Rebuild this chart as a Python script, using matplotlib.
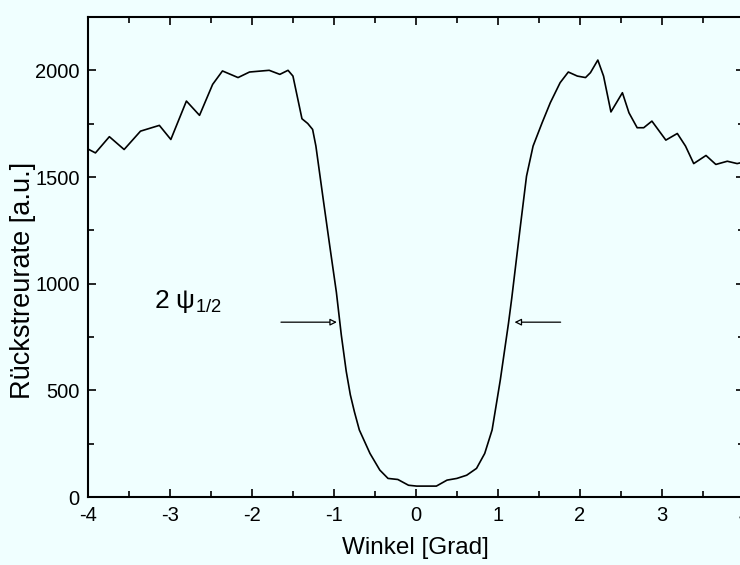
import numpy as np
import matplotlib.pyplot as plt
from matplotlib.ticker import MultipleLocator

# curve
winkel = [-3.99, -3.91, -3.74, -3.56, -3.36, -3.13, -2.99, -2.80, -2.64, -2.48,
          -2.36, -2.17, -2.03, -1.79, -1.66, -1.56, -1.50, -1.44, -1.39, -1.32,
          -1.26, -1.22, -1.13, -1.05, -0.97, -0.91, -0.85, -0.80, -0.75, -0.69,
          -0.56, -0.44, -0.34, -0.22, -0.09, 0.01, 0.25, 0.38, 0.50, 0.62,
          0.74, 0.84, 0.93, 0.99, 1.03, 1.13, 1.17, 1.27, 1.35, 1.43,
          1.54, 1.64, 1.76, 1.86, 1.97, 2.07, 2.13, 2.22, 2.29, 2.38,
          2.52, 2.60, 2.70, 2.78, 2.88, 3.05, 3.19, 3.29, 3.39, 3.54,
          3.66, 3.80, 3.92, 4.00]
rate = [1629, 1613, 1689, 1629, 1715, 1742, 1676, 1856, 1789, 1934,
        1997, 1966, 1992, 2000, 1981, 2000, 1973, 1864, 1773, 1751,
        1723, 1645, 1394, 1175, 960, 760, 590, 480, 400, 315,
        205, 127, 88, 83, 56, 52, 52, 80, 88, 103,
        135, 205, 315, 455, 549, 815, 933, 1254, 1504, 1645,
        1754, 1848, 1942, 1992, 1973, 1966, 1989, 2048, 1973, 1805,
        1895, 1801, 1731, 1731, 1762, 1673, 1704, 1645, 1563, 1601,
        1559, 1574, 1563, 1570]

arrow_y = 820
arrow_left = (-1.68, -0.93)
arrow_right = (1.80, 1.17)

plt.rcParams['font.family'] = ['Liberation Sans', 'DejaVu Sans']
plt.rcParams['axes.unicode_minus'] = False
plt.rcParams['mathtext.default'] = 'regular'

fig = plt.figure(figsize=(7.4, 5.65), dpi=100, facecolor='#f0ffff')
ax = fig.add_axes([0.119, 0.120, 0.886, 0.850])
ax.set_facecolor('#f0ffff')

ax.plot(winkel, rate, color='black', lw=1.2, solid_joinstyle='round')

for x0, x1 in (arrow_left, arrow_right):
    ax.annotate('', xy=(x1, arrow_y), xytext=(x0, arrow_y),
                arrowprops=dict(arrowstyle='-|>', color='black', lw=0.9,
                                mutation_scale=10, fc='#f0ffff'))

ax.text(-3.2, 887, r'2 $\psi_{1/2}$', fontsize=19, va='baseline', ha='left')

ax.set_xlim(-4, 4)
ax.set_ylim(0, 2250)
ax.xaxis.set_major_locator(MultipleLocator(1))
ax.xaxis.set_minor_locator(MultipleLocator(0.5))
ax.yaxis.set_major_locator(MultipleLocator(500))
ax.yaxis.set_minor_locator(MultipleLocator(250))
ax.tick_params(which='both', direction='in', top=True, right=True,
               width=1.2, labelsize=14.5)
ax.tick_params(which='major', length=6, pad=6)
ax.tick_params(which='minor', length=4)
for s in ax.spines.values():
    s.set_linewidth(1.5)

ax.set_xlabel('Winkel [Grad]', fontsize=17.5, labelpad=9)
ax.set_ylabel('Rückstreurate [a.u.]', fontsize=19.5)
ax.yaxis.label.set_va('center')
ax.yaxis.set_label_coords(-0.099, 0.452)

fig.savefig('out.png', dpi=100, facecolor=fig.get_facecolor())
